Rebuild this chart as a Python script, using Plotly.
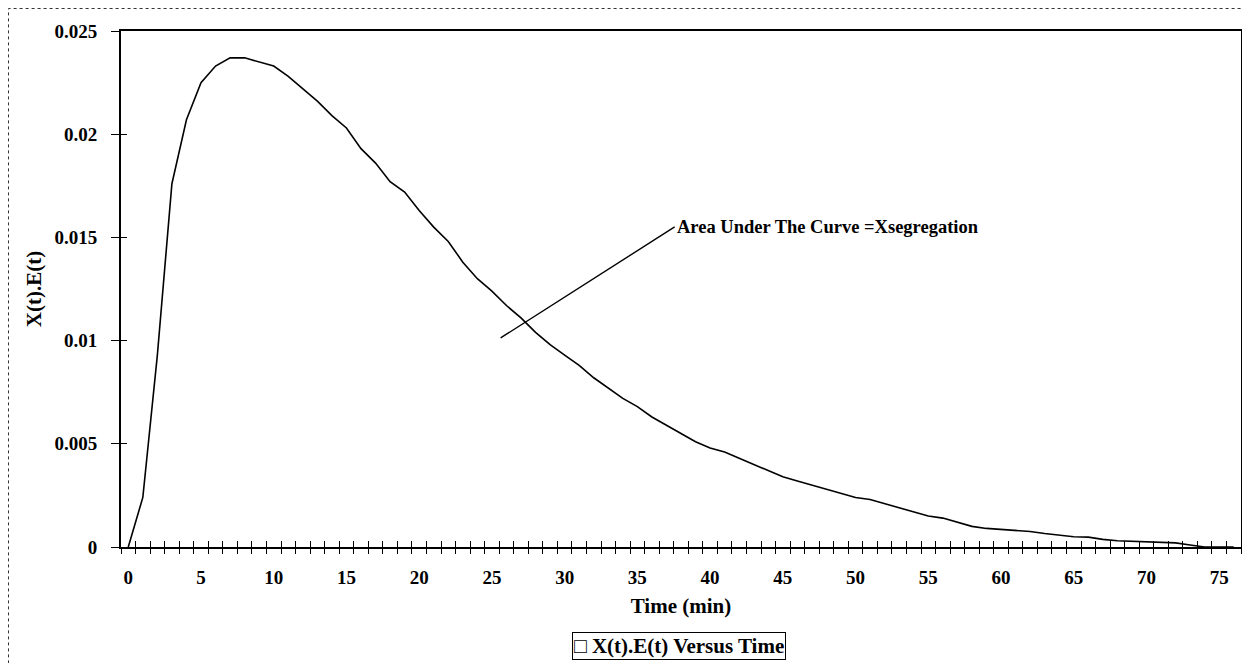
import plotly.graph_objects as go

time_min = list(range(0, 77))
xe_values = [
    0.0, 0.0024, 0.0093, 0.0176, 0.0207, 0.0225, 0.0233, 0.0237, 0.0237, 0.0235,
    0.0233, 0.0228, 0.0222, 0.0216, 0.0209, 0.0203, 0.0193, 0.0186, 0.0177, 0.0172,
    0.0163, 0.0155, 0.0148, 0.0138, 0.0130, 0.0124, 0.0117, 0.0111, 0.0104, 0.0098,
    0.0093, 0.0088, 0.0082, 0.0077, 0.0072, 0.0068, 0.0063, 0.0059, 0.0055, 0.0051,
    0.0048, 0.0046, 0.0043, 0.0040, 0.0037, 0.0034, 0.0032, 0.0030, 0.0028, 0.0026,
    0.0024, 0.0023, 0.0021, 0.0019, 0.0017, 0.0015, 0.0014, 0.0012, 0.0010, 0.0009,
    0.00085, 0.0008, 0.00075, 0.00065, 0.00057, 0.0005, 0.00048, 0.00037, 0.0003, 0.00027,
    0.00025, 0.00024, 0.0002, 0.0001, 0.0, 0.0, 0.0,
]
x_tick_vals = list(range(0, 76, 5))
y_tick_vals = [0, 0.005, 0.01, 0.015, 0.02, 0.025]
y_tick_text = ["0", "0.005", "0.01", "0.015", "0.02", "0.025"]
series_name = "X(t).E(t) Versus Time"
annotation_text = "Area Under The Curve =Xsegregation"

FONT = "Liberation Serif"
font_tick = dict(family=FONT, size=19, color="black", weight="bold")
font_title = dict(family=FONT, size=21, color="black", weight="bold")
font_note = dict(family=FONT, size=18.5, color="black", weight="bold")

# page body has an 8px margin, so the figure is sized to fit inside the window
W, H = 1242, 655
ML, MR, MT, MB = 113, 9, 23, 116
PW, PH = W - ML - MR, H - MT - MB

fig = go.Figure()
fig.add_trace(go.Scatter(
    x=time_min, y=xe_values, mode="lines", name=series_name,
    line=dict(color="black", width=1.6),
    showlegend=False, hoverinfo="x+y",
))
# empty helper traces so the overlay axes (crossing tick marks) are drawn
for xa, ya in (("x2", "y"), ("x3", "y"), ("x", "y2")):
    fig.add_trace(go.Scatter(x=[None], y=[None], xaxis=xa, yaxis=ya,
                             mode="lines", showlegend=False, hoverinfo="skip"))

xrange = [-0.5, 76.5]
yrange = [0, 0.025]

bx0 = (0.5 - ML) / PW
bx1 = (W - 3 - ML) / PW
by1 = (PH + MT - 0.5) / PH
border_path = f"M {bx0},-0.4 L {bx0},{by1} L {bx1},{by1} L {bx1},-0.4"

tick_axis_common = dict(
    range=xrange, overlaying="x", anchor="y", side="bottom",
    tickmode="linear", tick0=-0.5, dtick=1, ticklen=6,
    tickwidth=1, tickcolor="black", showticklabels=False, automargin=False,
    showgrid=False, zeroline=False, showline=False, fixedrange=True,
)

fig.update_layout(
    width=W, height=H,
    margin=dict(l=ML, r=MR, t=MT, b=MB, autoexpand=False),
    paper_bgcolor="white", plot_bgcolor="white",
    font=font_tick,
    xaxis=dict(
        range=xrange, tickmode="array", tickvals=x_tick_vals,
        ticks="", showgrid=False, zeroline=False, automargin=False,
        showline=True, linecolor="black", linewidth=2, mirror=True,
        tickfont=font_tick, ticklabelstandoff=12,
        title=dict(text="Time (min)", font=font_title, standoff=12),
    ),
    xaxis2=dict(ticks="outside", **tick_axis_common),
    xaxis3=dict(ticks="inside", **tick_axis_common),
    yaxis=dict(
        range=yrange, tickmode="array", tickvals=y_tick_vals, ticktext=y_tick_text,
        ticks="outside", ticklen=8, tickwidth=1, tickcolor="black",
        showgrid=False, zeroline=False, automargin=False,
        showline=True, linecolor="black", linewidth=2, mirror=True,
        tickfont=font_tick, ticklabelstandoff=10,
        title=dict(text="X(t).E(t)", font=font_title, standoff=7),
    ),
    yaxis2=dict(
        range=yrange, overlaying="y", anchor="x", side="left",
        tickmode="array", tickvals=y_tick_vals, ticks="inside", ticklen=6,
        tickwidth=1, tickcolor="black", showticklabels=False, automargin=False,
        showgrid=False, zeroline=False, showline=False, fixedrange=True,
    ),
    showlegend=False,
    annotations=[
        dict(
            x=25.6, y=0.01013, xref="x", yref="y",
            text=annotation_text, showarrow=True, arrowhead=0, arrowwidth=1.4,
            arrowcolor="black", ax=174, ay=-111, axref="pixel", ayref="pixel",
            xanchor="left", yanchor="middle", font=font_note,
        ),
        dict(
            x=(679 - 8 - ML) / PW, y=(547 - 646) / PH, xref="paper", yref="paper",
            text="\u25a1 " + series_name, showarrow=False,
            xanchor="center", yanchor="middle", font=font_title,
            bordercolor="black", borderwidth=1, borderpad=1, bgcolor="white",
        ),
    ],
    shapes=[dict(
        type="path", xref="paper", yref="paper", path=border_path,
        line=dict(color="#333", width=1, dash="dot"),
    )],
)

fig.write_html("out.html")
